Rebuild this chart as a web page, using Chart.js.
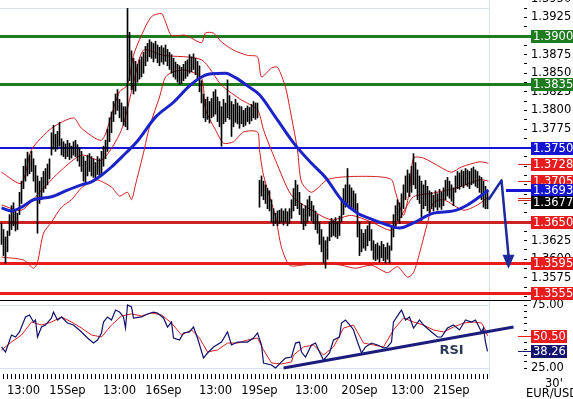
<!DOCTYPE html>
<html>
<head>
<meta charset="utf-8">
<script src="https://cdn.jsdelivr.net/npm/chart.js@4.4.1/dist/chart.umd.min.js"></script>
<style>
  html, body { margin: 0; padding: 0; background: #fff; }
  #wrap { position: relative; width: 573px; height: 399px; overflow: hidden; }
  #price { position: absolute; left: 0; top: 0; }
  #rsi { position: absolute; left: 0; top: 300px; }
</style>
</head>
<body>
<div id="wrap">
  <canvas id="price" width="573" height="300"></canvas>
  <canvas id="rsi" width="573" height="99"></canvas>
</div>
<script>
// EUR/USD 30' bars, index = bar number (30 min each)
const highs = [
  1.3648,1.3640,1.3630,1.3638,1.3660,1.3672,1.3676,1.3665,1.3662,1.3690,
  1.3705,1.3725,1.3735,1.3744,1.3740,1.3745,1.3735,1.3726,1.3712,1.3705,
  1.3710,1.3718,1.3722,1.3728,1.3735,1.3770,1.3780,1.3768,1.3772,1.3784,
  1.3762,1.3758,1.3755,1.3760,1.3756,1.3752,1.3758,1.3760,1.3754,1.3750,
  1.3745,1.3738,1.3732,1.3740,1.3742,1.3738,1.3735,1.3730,1.3738,1.3735,
  1.3745,1.3752,1.3760,1.3775,1.3790,1.3798,1.3812,1.3822,1.3828,1.3815,
  1.3810,1.3805,1.3805,1.3937,1.3905,1.3880,1.3870,1.3866,1.3862,1.3868,
  1.3872,1.3878,1.3886,1.3890,1.3895,1.3892,1.3890,1.3893,1.3888,1.3885,
  1.3887,1.3884,1.3888,1.3882,1.3878,1.3875,1.3870,1.3865,1.3862,1.3860,
  1.3858,1.3862,1.3866,1.3868,1.3875,1.3872,1.3876,1.3870,1.3866,1.3860,
  1.3840,1.3822,1.3815,1.3818,1.3812,1.3816,1.3825,1.3828,1.3818,1.3812,
  1.3805,1.3815,1.3810,1.3841,1.3820,1.3812,1.3808,1.3815,1.3810,1.3806,
  1.3805,1.3800,1.3803,1.3806,1.3804,1.3808,1.3812,1.3810,1.3810,1.3706,
  1.3712,1.3705,1.3700,1.3695,1.3692,1.3680,1.3668,1.3662,1.3665,1.3666,
  1.3668,1.3665,1.3668,1.3664,1.3668,1.3680,1.3695,1.3706,1.3700,1.3690,
  1.3675,1.3668,1.3672,1.3680,1.3685,1.3678,1.3672,1.3665,1.3660,1.3650,
  1.3640,1.3630,1.3625,1.3630,1.3650,1.3655,1.3652,1.3656,1.3650,1.3658,
  1.3680,1.3695,1.3700,1.3722,1.3700,1.3696,1.3692,1.3688,1.3675,1.3650,
  1.3640,1.3635,1.3640,1.3645,1.3650,1.3640,1.3625,1.3620,1.3622,1.3618,
  1.3624,1.3620,1.3616,1.3622,1.3618,1.3645,1.3660,1.3672,1.3680,1.3676,
  1.3688,1.3700,1.3712,1.3720,1.3715,1.3725,1.3742,1.3730,1.3720,1.3712,
  1.3705,1.3700,1.3706,1.3698,1.3692,1.3690,1.3686,1.3692,1.3688,1.3694,
  1.3690,1.3696,1.3706,1.3710,1.3705,1.3700,1.3696,1.3712,1.3718,1.3716,
  1.3720,1.3718,1.3722,1.3720,1.3718,1.3722,1.3724,1.3720,1.3718,1.3712,
  1.3710,1.3705,1.3698,1.3692
];
const lows = [
  1.3620,1.3605,1.3595,1.3610,1.3632,1.3640,1.3645,1.3638,1.3640,1.3660,
  1.3675,1.3695,1.3705,1.3712,1.3715,1.3718,1.3705,1.3690,1.3635,1.3675,
  1.3680,1.3690,1.3695,1.3700,1.3708,1.3740,1.3748,1.3745,1.3748,1.3752,
  1.3740,1.3738,1.3735,1.3738,1.3734,1.3736,1.3740,1.3738,1.3732,1.3725,
  1.3718,1.3705,1.3703,1.3712,1.3718,1.3712,1.3710,1.3708,1.3714,1.3712,
  1.3715,1.3725,1.3735,1.3745,1.3758,1.3770,1.3785,1.3795,1.3800,1.3790,
  1.3785,1.3780,1.3778,1.3774,1.3840,1.3828,1.3822,1.3826,1.3838,1.3842,
  1.3845,1.3850,1.3860,1.3866,1.3872,1.3870,1.3865,1.3870,1.3864,1.3860,
  1.3865,1.3862,1.3866,1.3860,1.3855,1.3850,1.3845,1.3842,1.3838,1.3835,
  1.3836,1.3840,1.3843,1.3846,1.3850,1.3852,1.3855,1.3848,1.3840,1.3825,
  1.3810,1.3790,1.3785,1.3788,1.3783,1.3790,1.3792,1.3795,1.3785,1.3778,
  1.3752,1.3782,1.3785,1.3790,1.3788,1.3765,1.3778,1.3784,1.3782,1.3776,
  1.3782,1.3778,1.3780,1.3785,1.3782,1.3786,1.3790,1.3788,1.3790,1.3670,
  1.3685,1.3680,1.3675,1.3668,1.3665,1.3650,1.3645,1.3648,1.3645,1.3648,
  1.3650,1.3646,1.3650,1.3645,1.3648,1.3655,1.3665,1.3672,1.3668,1.3660,
  1.3648,1.3640,1.3645,1.3650,1.3658,1.3652,1.3648,1.3640,1.3635,1.3620,
  1.3610,1.3595,1.3588,1.3600,1.3625,1.3630,1.3632,1.3630,1.3628,1.3632,
  1.3650,1.3660,1.3670,1.3675,1.3668,1.3670,1.3668,1.3665,1.3630,1.3605,
  1.3610,1.3615,1.3612,1.3618,1.3625,1.3612,1.3600,1.3598,1.3600,1.3596,
  1.3602,1.3598,1.3595,1.3600,1.3595,1.3612,1.3630,1.3645,1.3652,1.3648,
  1.3656,1.3668,1.3680,1.3690,1.3684,1.3690,1.3700,1.3695,1.3680,1.3675,
  1.3652,1.3668,1.3672,1.3665,1.3662,1.3668,1.3665,1.3670,1.3666,1.3670,
  1.3667,1.3672,1.3680,1.3685,1.3682,1.3678,1.3672,1.3690,1.3695,1.3694,
  1.3698,1.3696,1.3700,1.3698,1.3695,1.3700,1.3702,1.3698,1.3696,1.3690,
  1.3680,1.3670,1.3668,1.3668
];

// Bollinger bands and moving average, read at bar index
const upperTime = [0,10,15,25,36,40,50,55,59,63,66,70,75,80,82,85,92,100,102,106,110,116,123,128,130,135,138,142,145,148,150,155,163,173,188,195,197,201,204,206,211,220,225,230,239,243.5];
const upperBand = [1.3717,1.3702,1.3747,1.3776,1.3790,1.3776,1.3760,1.3794,1.3825,1.3834,1.3874,1.3901,1.3926,1.3930,1.3919,1.3901,1.3901,1.3891,1.3904,1.3904,1.3892,1.3881,1.3874,1.3872,1.3845,1.3857,1.3858,1.3831,1.3791,1.3747,1.3704,1.3690,1.3707,1.3711,1.3711,1.3707,1.3690,1.3659,1.3693,1.3736,1.3736,1.3723,1.3717,1.3724,1.3731,1.3729];
const midTime = [0,10,20,30,40,50,60,66,71,81,100,110,120,128,131,137,145,155,165,175,185,195,200,206,216,229,239,243.5];
const midBand = [1.3673,1.3666,1.3693,1.3720,1.3740,1.3733,1.3774,1.3837,1.3881,1.3874,1.3868,1.3834,1.3814,1.3801,1.3774,1.3733,1.3686,1.3666,1.3653,1.3659,1.3650,1.3639,1.3659,1.3684,1.3689,1.3697,1.3707,1.3705];
const lowerTime = [0,11,16,18,21,25,30,35,40,47,55,59,63,65,67,71,74,79,82,86,92,100,102,107,111,116,121,128,129,131,137,140,144,150,160,170,177,185,193,198,203,206,209,213,216,221,231,238,243.5];
const lowerBand = [1.3603,1.3599,1.3588,1.3596,1.3635,1.3650,1.3670,1.3680,1.3696,1.3707,1.3697,1.3685,1.3690,1.3680,1.3700,1.3743,1.3778,1.3818,1.3845,1.3852,1.3854,1.3844,1.3801,1.3774,1.3756,1.3758,1.3771,1.3771,1.3747,1.3713,1.3657,1.3616,1.3592,1.3592,1.3595,1.3592,1.3588,1.3592,1.3582,1.3590,1.3576,1.3582,1.3608,1.3649,1.3676,1.3680,1.3666,1.3673,1.3684];
const maTime = [0,5,10,16,25,33,40,45,50,55,60,68,77,86,94,100,104,112,117,123,129,137,147,155,162,170,178,184,193,199,206,216,226,233,239,243.5];
const maValues = [1.3669,1.3665,1.3670,1.3680,1.3684,1.3693,1.3700,1.3704,1.3713,1.3724,1.3737,1.3759,1.3791,1.3811,1.3833,1.3845,1.3849,1.3850,1.3844,1.3833,1.3821,1.3791,1.3753,1.3729,1.3710,1.3680,1.3662,1.3655,1.3646,1.3642,1.3649,1.3662,1.3665,1.3673,1.3684,1.3693];

// projected move
const arrowTime = [243.5, 250, 253.5];
const arrowValues = [1.3680, 1.3706, 1.3598];

// RSI panel
const rsiTime = [0,2,5,7,9,12,14,16,17,18,20,22,25,26,28,30,33,36,40,43,46,48,50,51,53,55,57,59,61,62,63,65,66,70,73,76,78,81,83,85,86,89,91,94,96,98,101,103,106,110,113,115,118,123,126,128,130,131,135,137,140,142,145,147,149,150,152,155,157,159,161,164,166,169,170,172,175,176,178,180,182,185,188,191,193,195,196,199,200,202,204,206,209,211,215,218,220,223,226,229,232,235,237,240,241,242,243];
const rsiValues = [41.7,37.7,51.2,49.6,53.6,65.5,67.1,61.5,63.1,49.6,57.5,59.1,64.7,69.4,63.1,65.5,60.7,59.1,53.6,48.8,44.8,47.2,52.8,61.5,65.5,63.1,71.0,69.4,65.5,56.7,75.0,73.4,64.7,65.5,67.9,69.4,68.7,64.7,57.5,61.5,48.8,47.2,52.8,53.6,57.5,48.8,32.9,36.9,41.7,45.6,53.6,43.3,45.6,45.6,48.8,52.8,43.3,29.0,27.4,25.0,29.8,32.9,33.7,44.8,45.6,37.7,33.7,43.3,44.8,37.7,31.3,36.9,47.2,49.6,60.7,63.1,57.5,55.2,45.6,36.9,41.7,44.8,43.3,40.9,41.7,45.6,61.5,68.7,71.0,63.1,65.5,56.7,63.1,59.1,53.6,49.6,49.6,56.7,59.1,55.2,63.1,61.5,63.1,53.6,56.7,45.6,38.26];
const sigTime = [0,5,10,15,20,25,30,35,40,45,50,55,60,65,70,75,80,85,90,95,99,103,108,113,118,123,128,131,135,140,145,146,151,156,161,166,171,176,181,186,191,196,201,206,211,216,221,226,231,236,240,242,243];
const sigValues = [39.3,45.6,51.2,61.5,59.1,61.5,65.5,61.5,56.7,51.2,49.6,59.1,66.3,67.9,66.3,68.7,67.1,60.7,51.2,55.2,48.8,37.7,39.3,44.8,44.8,47.2,48.8,39.3,29.0,28.2,29.8,35.3,41.7,43.3,35.3,41.7,56.7,59.1,44.8,43.3,41.7,55.2,64.7,61.5,59.1,55.2,53.6,57.5,60.7,61.5,60.7,55.2,50.5];
const trendTime = [141, 256];
const trendValues = [25.0, 57.5];

// levels and value tags
const levelValues = [1.3900, 1.3835, 1.3750, 1.3650, 1.3595, 1.3555];
const priceTags = [1.3900, 1.3835, 1.3750, 1.3728, 1.3705, 1.3693, 1.3677, 1.3650, 1.3595, 1.3555];
const rsiTags = [50.50, 38.26];

// x axis labels
const tickIndex = [11, 33, 59, 81, 107, 129, 155, 179, 203, 225];
const tickText = ['13:00', '15Sep', '13:00', '16Sep', '13:00', '19Sep', '13:00', '20Sep', '13:00', '21Sep'];

const FONT = '"DejaVu Sans", Verdana, sans-serif';
const FS = 11.5;
const TAG_X = 531;
const X_MIN = -0.75, X_MAX = 243.75;
const GREEN = '#1f7b1f', BLUE = '#1414d2', RED = '#e81c1c', DARKRED = '#cc2222', NAVY = '#1c2a9c';
const levelColors = [GREEN, GREEN, BLUE, DARKRED, RED, RED];
const levelWidths = [3, 3, 2, 3, 3, 3];
const priceTagColors = [GREEN, GREEN, BLUE, RED, RED, BLUE, '#000', RED, RED, RED];
const rsiTagColors = [RED, '#15156e'];

Chart.defaults.font.family = FONT;
Chart.defaults.font.size = FS;
Chart.defaults.color = '#000';

function pts(t, v) {
  return t.map((x, i) => ({ x: x, y: v[i] }));
}

const bars = highs.map((h, i) => ({ x: i, y: [lows[i], h] }));

function noPad(s) {
  s.paddingTop = 0; s.paddingBottom = 0; s.paddingLeft = 0; s.paddingRight = 0;
}

function drawTag(ctx, py, text, color, w) {
  ctx.fillStyle = color;
  ctx.fillRect(TAG_X, Math.round(py) - 6, w, 13);
  ctx.fillStyle = '#fff';
  ctx.textBaseline = 'middle';
  ctx.textAlign = 'left';
  ctx.fillText(text, TAG_X + 2, Math.round(py) + 1);
}

function drawStub(ctx, py, color, width, x0) {
  ctx.strokeStyle = color;
  ctx.lineWidth = width;
  ctx.beginPath();
  ctx.moveTo(x0, Math.round(py) + 0.5);
  ctx.lineTo(TAG_X, Math.round(py) + 0.5);
  ctx.stroke();
}

const priceOverlay = {
  id: 'priceOverlay',
  beforeDatasetsDraw(chart) {
    const { ctx, chartArea: a, scales: { y } } = chart;
    ctx.save();
    ctx.strokeStyle = '#d9e2ea';
    ctx.lineWidth = 1;
    ctx.beginPath();
    ctx.moveTo(a.left, a.top + 0.5); ctx.lineTo(a.right, a.top + 0.5);
    ctx.moveTo(a.right + 0.5, 0); ctx.lineTo(a.right + 0.5, a.bottom);
    ctx.stroke();
    levelValues.forEach((v, i) => {
      const py = Math.round(y.getPixelForValue(v)) + (levelWidths[i] % 2 ? 0.5 : 0);
      ctx.strokeStyle = levelColors[i];
      ctx.lineWidth = levelWidths[i];
      ctx.beginPath();
      ctx.moveTo(a.left, py);
      ctx.lineTo(TAG_X, py);
      ctx.stroke();
    });
    ctx.restore();
  },
  afterDatasetsDraw(chart) {
    // projection arrow, placed through the chart scales
    const { ctx, scales: { x, y } } = chart;
    const px = arrowTime.map((t) => x.getPixelForValue(t));
    const py = arrowValues.map((v) => y.getPixelForValue(v));
    const n = px.length - 1;
    ctx.save();
    ctx.strokeStyle = NAVY;
    ctx.fillStyle = NAVY;
    ctx.lineWidth = 2.5;
    ctx.lineJoin = 'round';
    ctx.beginPath();
    ctx.moveTo(px[0], py[0]);
    for (let i = 1; i < n; i++) ctx.lineTo(px[i], py[i]);
    ctx.lineTo(px[n], py[n] - 5);
    ctx.stroke();
    ctx.beginPath();
    ctx.moveTo(px[n] - 6, py[n] - 6);
    ctx.lineTo(px[n] + 6, py[n] - 6);
    ctx.lineTo(px[n], py[n] + 8);
    ctx.closePath();
    ctx.fill();
    ctx.restore();
  },
  afterDraw(chart) {
    const { ctx, scales: { y } } = chart;
    ctx.save();
    drawStub(ctx, y.getPixelForValue(1.3728), DARKRED, 1, 518);
    drawStub(ctx, y.getPixelForValue(1.3705), DARKRED, 1, 518);
    drawStub(ctx, y.getPixelForValue(1.3682), DARKRED, 1, 518);
    drawStub(ctx, y.getPixelForValue(1.3679), DARKRED, 1, 518);
    drawStub(ctx, y.getPixelForValue(1.3693), BLUE, 3, 506);
    ctx.font = FS + 'px ' + FONT;
    priceTags.forEach((v, i) => {
      drawTag(ctx, y.getPixelForValue(v), v.toFixed(4), priceTagColors[i], 42);
    });
    ctx.restore();
  }
};

const rsiOverlay = {
  id: 'rsiOverlay',
  beforeDatasetsDraw(chart) {
    const { ctx, chartArea: a } = chart;
    ctx.save();
    ctx.strokeStyle = '#d9e2ea';
    ctx.lineWidth = 1;
    ctx.beginPath();
    ctx.moveTo(a.right + 0.5, 0); ctx.lineTo(a.right + 0.5, a.bottom + 4);
    ctx.stroke();
    ctx.strokeStyle = '#000';
    ctx.beginPath();
    ctx.moveTo(0, 0.5); ctx.lineTo(TAG_X, 0.5);
    ctx.stroke();
    ctx.restore();
  },
  afterDraw(chart) {
    const { ctx, scales: { x, y } } = chart;
    ctx.save();
    ctx.font = 'bold 13px ' + FONT;
    ctx.fillStyle = '#2c3a55';
    ctx.textAlign = 'center';
    ctx.textBaseline = 'middle';
    ctx.fillText('RSI', x.getPixelForValue(225), y.getPixelForValue(38.5));
    ctx.font = FS + 'px ' + FONT;
    ctx.fillStyle = '#000';
    ctx.textAlign = 'left';
    ctx.fillText("30'", 545, 84);
    ctx.fillText('EUR/USD', 526, 94);
    drawStub(ctx, y.getPixelForValue(rsiTags[0]), RED, 1, 518);
    drawStub(ctx, y.getPixelForValue(rsiTags[1]), '#15156e', 1, 518);
    rsiTags.forEach((v, i) => {
      drawTag(ctx, y.getPixelForValue(v), v.toFixed(2), rsiTagColors[i], 36);
    });
    ctx.restore();
  }
};

const rightAxisWidth = 84;

new Chart(document.getElementById('price'), {
  type: 'line',
  data: {
    datasets: [
      { type: 'line', data: pts(maTime, maValues), borderColor: '#1a22c8', borderWidth: 3,
        pointRadius: 0, cubicInterpolationMode: 'monotone', order: 1 },
      { type: 'bar', data: bars, backgroundColor: '#000', barThickness: 1, borderWidth: 0, order: 2 },
      { type: 'line', data: pts(upperTime, upperBand), borderColor: '#d01a1a', borderWidth: 1,
        pointRadius: 0, tension: 0.25, order: 3 },
      { type: 'line', data: pts(midTime, midBand), borderColor: '#d01a1a', borderWidth: 1,
        pointRadius: 0, tension: 0.25, order: 3 },
      { type: 'line', data: pts(lowerTime, lowerBand), borderColor: '#d01a1a', borderWidth: 1,
        pointRadius: 0, tension: 0.25, order: 3 }
    ]
  },
  options: {
    responsive: false,
    animation: false,
    events: [],
    layout: { padding: { top: 8, left: 0, right: 0, bottom: 0 }, autoPadding: false },
    plugins: { legend: { display: false }, tooltip: { enabled: false } },
    scales: {
      x: { type: 'linear', min: X_MIN, max: X_MAX, offset: false, display: false },
      y: {
        type: 'linear', position: 'right',
        min: 1.3900 - 264 / 7443, max: 1.3900 + 28 / 7443,
        afterBuildTicks: (s) => {
          const t = [];
          for (let k = 0; k <= 32; k++) t.push({ value: (13550 + k * 12.5) / 10000 });
          s.ticks = t;
        },
        afterFit: (s) => { s.width = rightAxisWidth; noPad(s); },
        border: { display: false },
        grid: { drawOnChartArea: false, tickLength: 38, tickWidth: 1, tickColor: '#000',
                tickBorderDash: [0, 35, 3, 100] },
        ticks: {
          autoSkip: false, padding: 4, color: '#000',
          callback: (v) => (Math.round(v * 10000) % 25 === 0 ? v.toFixed(4) : '')
        }
      }
    }
  },
  plugins: [priceOverlay]
});

new Chart(document.getElementById('rsi'), {
  type: 'line',
  data: {
    datasets: [
      { data: pts(trendTime, trendValues), borderColor: '#1c1c7c', borderWidth: 3, pointRadius: 0,
        clip: false, order: 0 },
      { data: pts(rsiTime, rsiValues), borderColor: '#101068', borderWidth: 1.2, pointRadius: 0, order: 1 },
      { data: pts(sigTime, sigValues), borderColor: '#d42020', borderWidth: 1, pointRadius: 0, order: 2 }
    ]
  },
  options: {
    responsive: false,
    animation: false,
    events: [],
    layout: { padding: 0, autoPadding: false },
    plugins: { legend: { display: false }, tooltip: { enabled: false } },
    scales: {
      x: {
        type: 'linear', min: X_MIN, max: X_MAX, offset: false, position: 'bottom',
        afterBuildTicks: (s) => {
          const t = [];
          for (let k = 1; k <= 243; k += 2) t.push({ value: k });
          s.ticks = t;
        },
        afterFit: (s) => { s.height = 25; noPad(s); },
        border: { display: false },
        grid: { drawOnChartArea: false, tickLength: 5, tickColor: '#000', tickWidth: 1 },
        ticks: {
          autoSkip: false, maxRotation: 0, padding: 5, color: '#000',
          callback: (v) => { const k = tickIndex.indexOf(v); return k >= 0 ? tickText[k] : ''; }
        }
      },
      y: {
        type: 'linear', position: 'right',
        min: 25 - 6 / 1.26, max: 75 + 5 / 1.26,
        afterBuildTicks: (s) => {
          const t = [];
          for (let v = 25; v <= 75; v += 5) t.push({ value: v });
          s.ticks = t;
        },
        afterFit: (s) => { s.width = rightAxisWidth; noPad(s); },
        border: { display: false },
        grid: {
          drawOnChartArea: true, tickLength: 38, tickWidth: 1, tickColor: '#000',
          tickBorderDash: [0, 35, 3, 100],
          color: (c) => (c.tick && (c.tick.value === 25 || c.tick.value === 75) ? '#d6e2ec' : 'rgba(0,0,0,0)')
        },
        ticks: {
          autoSkip: false, padding: 4, color: '#000',
          callback: (v) => (v === 25 || v === 75 ? v.toFixed(2) : '')
        }
      }
    }
  },
  plugins: [rsiOverlay]
});
</script>
</body>
</html>
